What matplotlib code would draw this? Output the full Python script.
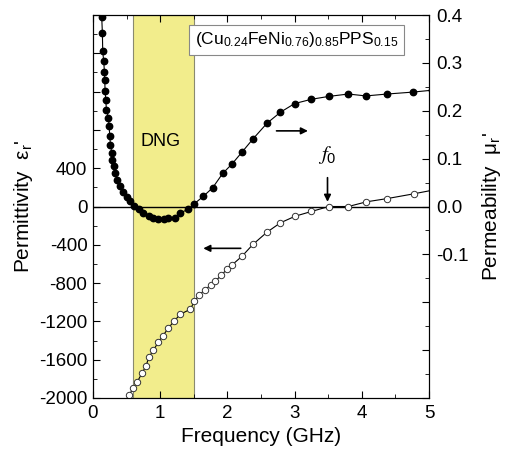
import matplotlib
matplotlib.use('Agg')
import matplotlib.pyplot as plt
from matplotlib.ticker import MultipleLocator, FuncFormatter

plt.rcParams['font.family'] = ['Liberation Sans', 'DejaVu Sans']
plt.rcParams['mathtext.fontset'] = 'custom'
plt.rcParams['mathtext.rm'] = 'Liberation Sans'
plt.rcParams['mathtext.it'] = 'Liberation Sans:italic'
plt.rcParams['mathtext.default'] = 'regular'

# permeability (filled dots, right axis)
freq_mu = [0.13, 0.14, 0.145, 0.16, 0.17, 0.175, 0.18, 0.19, 0.20, 0.23, 0.24, 0.25,
           0.26, 0.28, 0.29, 0.31, 0.33, 0.36, 0.40, 0.45, 0.50, 0.55, 0.61, 0.68,
           0.75, 0.83, 0.90, 0.97, 1.05, 1.12, 1.22, 1.30, 1.42, 1.51, 1.64, 1.78,
           1.93, 2.07, 2.22, 2.38, 2.59, 2.79, 3.00, 3.25, 3.51, 3.80, 4.06, 4.38,
           4.76, 5.05]
mu = [0.396, 0.362, 0.324, 0.303, 0.282, 0.265, 0.242, 0.223, 0.202, 0.185, 0.168, 0.147,
      0.129, 0.112, 0.098, 0.084, 0.071, 0.056, 0.042, 0.030, 0.019, 0.011, 0.001, -0.006,
      -0.013, -0.020, -0.024, -0.026, -0.027, -0.024, -0.024, -0.013, -0.006, 0.006, 0.021, 0.039,
      0.069, 0.089, 0.114, 0.141, 0.174, 0.197, 0.215, 0.224, 0.230, 0.235, 0.231, 0.235,
      0.239, 0.243]

# permittivity (open circles, left axis)
freq_eps = [0.54, 0.60, 0.66, 0.73, 0.79, 0.83, 0.90, 0.97, 1.04, 1.12, 1.21, 1.30,
            1.45, 1.51, 1.58, 1.66, 1.75, 1.82, 1.91, 2.00, 2.07, 2.22, 2.38, 2.59,
            2.79, 3.01, 3.25, 3.51, 3.80, 4.07, 4.38, 4.77, 5.05]
eps = [-1966, -1896, -1830, -1740, -1664, -1576, -1500, -1420, -1351, -1271, -1195, -1125,
       -1073, -986, -927, -872, -823, -778, -719, -649, -610, -518, -396, -268,
       -170, -101, -52, 0, 0, 49, 83, 132, 170]

dng_band = (0.6, 1.5)
f0 = 3.49

fig = plt.figure(figsize=(5.07, 4.5), dpi=100)
ax = fig.add_axes([0.1834, 0.1156, 0.6627, 0.851])
ax2 = ax.twinx()

ax.axvspan(dng_band[0], dng_band[1], facecolor='#f2ed8c', edgecolor='#8a8a70', lw=0.8, zorder=0)
ax.axhline(0, color='black', lw=1.0, zorder=1)

ax.plot(freq_eps, eps, '-o', color='black', lw=0.8, ms=4.6, mfc='white', mec='#333333', mew=0.7, zorder=3)
ax2.plot(freq_mu, mu, '-o', color='black', lw=0.8, ms=4.6, mfc='black', mec='black', zorder=3)

ax.set_xlim(0, 5)
ax.set_ylim(-2000, 2000)
ax2.set_ylim(-0.4, 0.4)

ax.xaxis.set_major_locator(MultipleLocator(1))
ax.xaxis.set_minor_locator(MultipleLocator(0.5))
ax.yaxis.set_major_locator(MultipleLocator(400))
ax.yaxis.set_minor_locator(MultipleLocator(200))
ax.yaxis.set_major_formatter(FuncFormatter(lambda v, p: '%d' % v if v <= 400 else ''))
ax2.yaxis.set_major_locator(MultipleLocator(0.1))
ax2.yaxis.set_minor_locator(MultipleLocator(0.05))
ax2.yaxis.set_major_formatter(FuncFormatter(lambda v, p: '%.1f' % v if v >= -0.15 else ''))

ax.tick_params(axis='x', which='both', direction='in', top=True, labelsize=13.5, pad=5)
ax.tick_params(axis='y', which='both', direction='in', labelsize=13.5, pad=4)
ax2.tick_params(axis='y', which='both', direction='in', labelsize=13.5, pad=5)
ax.tick_params(which='major', length=5)
ax.tick_params(which='minor', length=3)
ax2.tick_params(which='major', length=5)
ax2.tick_params(which='minor', length=3)

ax.set_xlabel('Frequency (GHz)', fontsize=15, labelpad=4)
ax.set_ylabel("Permittivity  $\\epsilon_r$'", fontsize=15, labelpad=3)
ax2.set_ylabel("Permeability  $\\mu_r$'", fontsize=15, labelpad=8)

ax.text(1.0, 680, 'DNG', ha='center', va='center', fontsize=13)
ax.text(3.03, 1740, '(Cu$_{0.24}$FeNi$_{0.76}$)$_{0.85}$PPS$_{0.15}$', ha='center', va='center',
        fontsize=12.5, bbox=dict(boxstyle='square,pad=0.32', fc='white', ec='#888888', lw=0.8))

ax2.annotate('', xy=(3.24, 0.158), xytext=(2.69, 0.158),
             arrowprops=dict(arrowstyle='-|>', color='black', lw=1.2, mutation_scale=10))
ax.annotate('', xy=(1.6, -437), xytext=(2.24, -437),
            arrowprops=dict(arrowstyle='-|>', color='black', lw=1.2, mutation_scale=10))
ax.annotate('', xy=(f0, 20), xytext=(f0, 330),
            arrowprops=dict(arrowstyle='-|>', color='black', lw=1.2, mutation_scale=10))
ax.text(f0, 540, '$\\mathit{f}_0$', ha='center', va='center', fontsize=15, math_fontfamily='stix')

fig.savefig('out.png', dpi=100)
